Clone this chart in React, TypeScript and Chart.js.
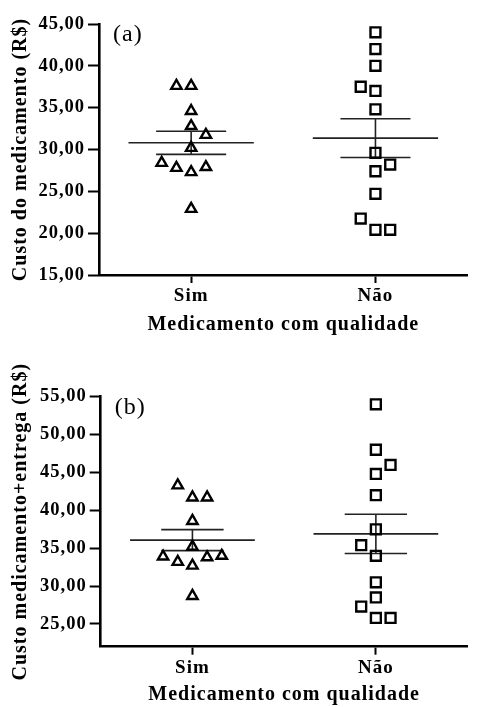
import React, { useEffect, useRef } from "react";
import { Chart, registerables } from "chart.js";

Chart.register(...registerables);

// ---------- data ----------
const categories = ["Sim", "Não"];

// panel (a): Custo do medicamento
const simA = [37.6, 37.6, 34.6, 32.8, 31.75, 30.2, 28.4, 27.8, 27.3, 27.9, 22.9];
const simAColumn = [-1, 0, 0, 0, 1, 0, -2, -1, 0, 1, 0];
const naoA = [44.0, 42.0, 40.0, 37.5, 37.0, 34.8, 29.6, 28.2, 27.4, 24.7, 21.75, 20.4, 20.4];
const naoAColumn = [0, 0, 0, -1, 0, 0, 0, 1, 0, 0, -1, 0, 1];
const yTicksA = [15, 20, 25, 30, 35, 40, 45];

// panel (b): Custo medicamento+entrega
const simB = [43.3, 41.7, 41.7, 38.6, 35.2, 33.9, 33.2, 32.7, 33.8, 34.0, 28.7];
const simBColumn = [-1, 0, 1, 0, 0, -2, -1, 0, 1, 2, 0];
const naoB = [54.0, 48.0, 46.0, 44.8, 42.0, 37.5, 35.4, 34.0, 30.5, 28.5, 27.3, 25.8, 25.8];
const naoBColumn = [0, 0, 1, 0, 0, 0, -1, 0, 0, 0, -1, 0, 1];
const yTicksB = [25, 30, 35, 40, 45, 50, 55];

// ---------- helpers ----------
const SLOT = 0.08;
const MEAN_HALF = 0.34;
const FONT = '"Liberation Serif", "Times New Roman", serif';

const mean = (a: number[]) => a.reduce((s, v) => s + v, 0) / a.length;
const sem = (a: number[]) => {
  const m = mean(a);
  const v = a.reduce((s, x) => s + (x - m) * (x - m), 0) / (a.length - 1);
  return Math.sqrt(v / a.length);
};
const fmt = (v: number) => v.toFixed(2).replace(".", ",");

type PanelProps = {
  sim: number[];
  simCol: number[];
  nao: number[];
  naoCol: number[];
  yMin: number;
  yMax: number;
  yTicks: number[];
  yTitle: string;
  tag: string;
  height: number;
  padTop: number;
  yWidth: number;
  xHeight: number;
  titlePadBottom: number;
  capHalf: number;
};

function Panel(p: PanelProps) {
  const ref = useRef<HTMLCanvasElement | null>(null);
  useEffect(() => {
    if (!ref.current) return;
    const lineStyle = {
      showLine: true,
      pointRadius: 0,
      borderColor: "#222",
      borderWidth: 1.6,
      fill: false,
      order: 5,
    };
    const datasets: any[] = [
      {
        label: categories[0],
        data: p.sim.map((v, i) => ({ x: 1 + p.simCol[i] * SLOT, y: v })),
        pointStyle: "triangle",
        pointRadius: 6,
        borderWidth: 2.4,
        borderColor: "#000",
        backgroundColor: "rgba(0,0,0,0)",
        showLine: false,
        order: 0,
      },
      {
        label: categories[1],
        data: p.nao.map((v, i) => ({ x: 2 + p.naoCol[i] * SLOT, y: v })),
        pointStyle: "rect",
        pointRadius: 7,
        borderWidth: 2.4,
        borderColor: "#000",
        backgroundColor: "rgba(0,0,0,0)",
        showLine: false,
        order: 0,
      },
    ];
    [p.sim, p.nao].forEach((vals, gi) => {
      const cx = gi + 1;
      const m = mean(vals);
      const s = sem(vals);
      datasets.push({ ...lineStyle, data: [{ x: cx - MEAN_HALF, y: m }, { x: cx + MEAN_HALF, y: m }] });
      datasets.push({ ...lineStyle, data: [{ x: cx - p.capHalf, y: m + s }, { x: cx + p.capHalf, y: m + s }] });
      datasets.push({ ...lineStyle, data: [{ x: cx - p.capHalf, y: m - s }, { x: cx + p.capHalf, y: m - s }] });
      datasets.push({ ...lineStyle, data: [{ x: cx, y: m - s }, { x: cx, y: m + s }] });
    });

    const spacing = {
      id: "spacing",
      beforeLayout(chart: any) {
        chart.ctx.letterSpacing = "1px";
      },
      beforeDraw(chart: any) {
        chart.ctx.letterSpacing = "1px";
      },
      afterDraw(chart: any) {
        const ctx = chart.ctx;
        const ca = chart.chartArea;
        ctx.save();
        ctx.font = `24px ${FONT}`;
        ctx.fillStyle = "#000";
        ctx.textAlign = "left";
        ctx.textBaseline = "middle";
        ctx.fillText(p.tag, ca.left + 14, ca.top + 11);
        ctx.restore();
      },
    };

    const chart = new Chart(ref.current, {
      type: "scatter",
      data: { datasets },
      plugins: [spacing],
      options: {
        animation: false,
        responsive: false,
        events: [],
        layout: { padding: { top: p.padTop, left: 0, right: 0, bottom: 0 } },
        plugins: { legend: { display: false }, tooltip: { enabled: false } },
        scales: {
          x: {
            type: "linear",
            min: 0.5,
            max: 2.5,
            afterBuildTicks: (s: any) => {
              s.ticks = categories.map((_, i) => ({ value: i + 1 }));
            },
            afterFit: (s: any) => {
              s.height = p.xHeight;
            },
            ticks: {
              callback: (v: any) => categories[Math.round(Number(v)) - 1] ?? "",
              font: { family: FONT, size: 19, weight: "bold" },
              color: "#000",
              padding: 2,
              autoSkip: false,
              maxRotation: 0,
            },
            grid: {
              display: true,
              drawOnChartArea: false,
              drawTicks: true,
              tickLength: 8,
              tickWidth: 2,
              tickColor: "#000",
            },
            border: { display: true, color: "#000", width: 2.6 },
            title: {
              display: true,
              text: "Medicamento com qualidade",
              font: { family: FONT, size: 20, weight: "bold" },
              color: "#000",
              padding: { top: 0, bottom: p.titlePadBottom },
            },
          },
          y: {
            type: "linear",
            min: p.yMin,
            max: p.yMax,
            afterBuildTicks: (s: any) => {
              s.ticks = p.yTicks.map((v) => ({ value: v }));
            },
            afterFit: (s: any) => {
              s.width = p.yWidth;
            },
            ticks: {
              callback: (v: any) => fmt(Number(v)),
              font: { family: FONT, size: 18.5, weight: "bold" },
              color: "#000",
              padding: 3,
              autoSkip: false,
            },
            grid: {
              display: true,
              drawOnChartArea: false,
              drawTicks: true,
              tickLength: 11,
              tickWidth: 2,
              tickColor: "#000",
            },
            border: { display: true, color: "#000", width: 2.6 },
            title: {
              display: true,
              text: p.yTitle,
              font: { family: FONT, size: 20, weight: "bold" },
              color: "#000",
              padding: { top: 9, bottom: 0 },
            },
          },
        },
      } as any,
    });
    return () => chart.destroy();
  }, []);
  return (
    <canvas
      ref={ref}
      width={477}
      height={p.height}
      style={{ display: "block", width: 477, height: p.height }}
    />
  );
}

export default function App() {
  useEffect(() => {
    document.body.style.margin = "0";
    document.body.style.background = "#fff";
  }, []);
  return (
    <div style={{ width: 477, background: "#fff" }}>
      <Panel
        sim={simA}
        simCol={simAColumn}
        nao={naoA}
        naoCol={naoAColumn}
        yMin={15}
        yMax={45}
        yTicks={yTicksA}
        yTitle="Custo do medicamento (R$)"
        tag="(a)"
        height={340}
        padTop={24}
        yWidth={99}
        xHeight={65}
        titlePadBottom={3}
        capHalf={0.19}
      />
      <Panel
        sim={simB}
        simCol={simBColumn}
        nao={naoB}
        naoCol={naoBColumn}
        yMin={22}
        yMax={55}
        yTicks={yTicksB}
        yTitle="Custo medicamento+entrega (R$)"
        tag="(b)"
        height={367}
        padTop={56.7}
        yWidth={100.7}
        xHeight={60.3}
        titlePadBottom={0}
        capHalf={0.17}
      />
    </div>
  );
}
